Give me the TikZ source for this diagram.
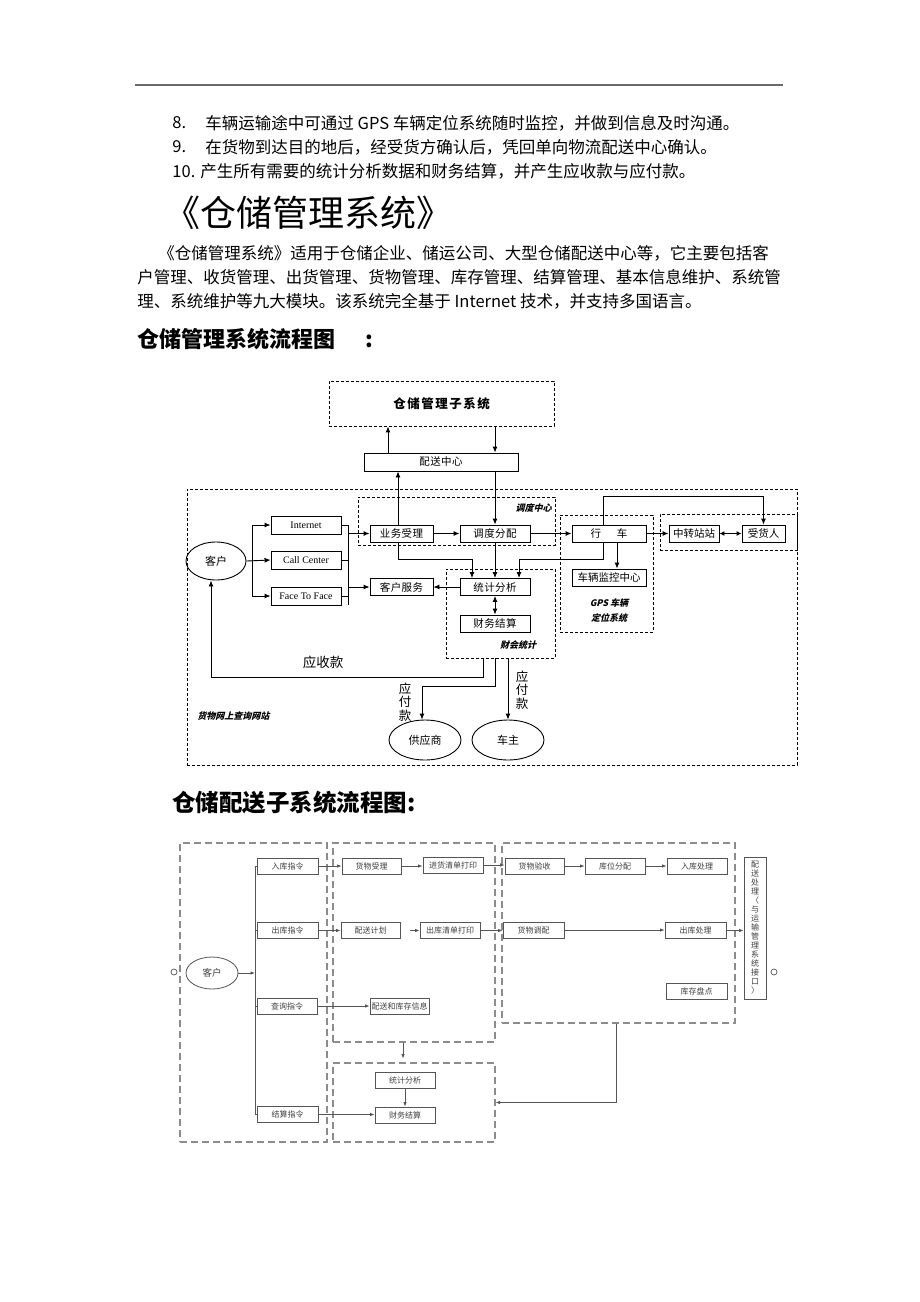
\documentclass[tikz,border=0pt]{standalone}
\usepackage{fontspec}
\setmainfont{Liberation Serif}
\newfontfamily\cjk{Noto Sans CJK SC}
\newfontfamily\cjksl{Noto Sans CJK SC}[FakeSlant=0.25]
\usepackage{xcolor}
\definecolor{ruleGray}{HTML}{6B6B6B}
\definecolor{dashGray}{HTML}{8C8C8C}
\definecolor{boxGray}{HTML}{555555}
\usetikzlibrary{arrows.meta,shapes.geometric}

\tikzset{
  txt/.style={anchor=west, inner sep=0pt, font=\cjk\fontsize{16.5}{18}\selectfont},
  box/.style={draw, inner sep=0pt, minimum height=17pt, font=\cjk\fontsize{10.5}{12}\selectfont\addfontfeature{LetterSpace=4}},
  ebox/.style={draw, inner sep=0pt, minimum width=70pt, minimum height=18pt, font=\fontsize{10}{12}\selectfont},
  dbox/.style={draw, dash pattern=on 3pt off 2pt, line width=0.8pt, inner sep=0pt},
  oval/.style={draw, ellipse, inner sep=0pt, font=\cjk\fontsize{11}{12}\selectfont},
  arr/.style={-{Latex[length=6pt,width=5pt]}},
  lbl/.style={inner sep=0pt, font=\cjksl\bfseries\fontsize{9}{15}\selectfont},
  vlab/.style={align=center, inner sep=0pt, font=\cjk\fontsize{12.5}{13.5}\selectfont},
  gbox/.style={draw=boxGray, line width=0.8pt, inner sep=0pt, minimum height=16pt, text=black!75, font=\cjk\fontsize{8}{9}\selectfont},
  gdash/.style={draw=dashGray, dash pattern=on 7pt off 4pt, line width=1.1pt, inner sep=0pt},
  garr/.style={draw=boxGray, line width=0.8pt, -{Latex[length=4.5pt,width=3.5pt]}},
  gline/.style={draw=boxGray, line width=0.8pt}
}

\begin{document}
\begin{tikzpicture}[x=1pt, y=-1pt, line width=0.9pt]
  \useasboundingbox (0,0) rectangle (920,1302);
  \fill[white] (0,0) rectangle (920,1302);
  \draw[ruleGray, line width=1.6pt] (135,85) -- (783,85);

  % text above the charts
  \node[txt] (n8) at (172,123) {8.};
  \node[txt] (l8) at (205,123) {车辆运输途中可通过 GPS 车辆定位系统随时监控，并做到信息及时沟通。};
  \node[txt] (n9) at (172,147) {9.};
  \node[txt] (l9) at (205,147) {在货物到达目的地后，经受货方确认后，凭回单向物流配送中心确认。};
  \node[txt] (l10) at (172,171) {10. 产生所有需要的统计分析数据和财务结算，并产生应收款与应付款。};
  \node[txt, font=\cjk\fontsize{36}{40}\selectfont] (title) at (164,213) {《仓储管理系统》};
  \node[txt] (p1) at (158,253) {《仓储管理系统》适用于仓储企业、储运公司、大型仓储配送中心等，它主要包括客};
  \node[txt] (p2) at (137,277) {户管理、收货管理、出货管理、货物管理、库存管理、结算管理、基本信息维护、系统管};
  \node[txt] (p3) at (137,301) {理、系统维护等九大模块。该系统完全基于 Internet 技术，并支持多国语言。};
  \node[txt, font=\cjk\bfseries\fontsize{22}{24}\selectfont] (head1) at (137,339) {仓储管理系统流程图\hspace{30pt}:};

  % chart 1
  \node[dbox, minimum width=225pt, minimum height=45pt,
        font=\cjk\bfseries\fontsize{12.5}{14}\selectfont\addfontfeature{LetterSpace=12}] (ccgl) at (441.5,403.5) {仓储管理子系统};
  \node[box, minimum width=154pt, minimum height=18pt] (pszx) at (441,462) {配送中心};
  \node[dbox, minimum width=610pt, minimum height=276pt] (outer) at (492,627) {};
  \node[dbox, minimum width=197pt, minimum height=48pt] (ddzx) at (456.5,521) {};
  \node[dbox, minimum width=109pt, minimum height=89pt] (chtj) at (500.5,613.5) {};
  \node[dbox, minimum width=93pt, minimum height=117pt] (gps) at (606.5,573.5) {};
  \node[dbox, minimum width=137pt, minimum height=36pt] (zzq) at (728.5,532) {};

  \node[oval, minimum width=60pt, minimum height=38pt] (kehu) at (216,561) {客户};
  \node[ebox] (inet) at (306,525) {Internet};
  \node[ebox] (callc) at (306,560) {Call Center};
  \node[ebox] (f2f) at (306,596) {Face To Face};
  \node[box, minimum width=63pt] (ywsl) at (401.5,533.5) {业务受理};
  \node[box, minimum width=70pt] (ddfp) at (495,533.5) {调度分配};
  \node[box, minimum width=63pt] (khfw) at (401.5,587) {客户服务};
  \node[box, minimum width=70pt] (tjfx) at (495,587) {统计分析};
  \node[box, minimum width=70pt] (cwjs) at (495,623.5) {财务结算};
  \node[box, minimum width=74pt] (xingche) at (609,533.5) {行\hspace{16pt}车};
  \node[box, minimum width=74pt, font=\cjk\fontsize{10.5}{12}\selectfont] (clzx) at (609,577.5) {车辆监控中心};
  \node[box, minimum width=50pt, font=\cjk\fontsize{10.5}{12}\selectfont] (zzz) at (694,533.5) {中转站站};
  \node[box, minimum width=43pt, font=\cjk\fontsize{10.5}{12}\selectfont] (shr) at (763.5,533.5) {受货人};
  \node[oval, minimum width=72pt, minimum height=40pt] (gys) at (425,740) {供应商};
  \node[oval, minimum width=72pt, minimum height=40pt] (cz) at (508,740) {车主};

  \node[lbl, anchor=east] (ddzxl) at (552,508) {调度中心};
  \node[lbl] (chtjl) at (518,645) {财会统计};
  \node[lbl, align=center] (gpsl) at (609,611) {GPS 车辆\\定位系统};
  \node[lbl, anchor=west] (hwcx) at (197,716) {货物网上查询网站};
  \node[inner sep=0pt, font=\cjk\fontsize{13.5}{15}\selectfont] (ysk) at (323,662) {应收款};
  \node[vlab] (yfk1) at (405,702) {应\\付\\款};
  \node[vlab] (yfk2) at (522,690) {应\\付\\款};

  \coordinate (lb) at (252,561);
  \coordinate (rb) at (348,561);

  \draw[arr] ([xshift=-53pt]pszx.north) -- ([xshift=-53pt]pszx.north |- ccgl.south);
  \draw[arr] (ccgl.south -| ddfp.north) -- (pszx.north -| ddfp.north);
  \draw[arr] ([xshift=-3.5pt]ywsl.north) -- ([xshift=-3.5pt]ywsl.north |- pszx.south);
  \draw[arr] (pszx.south -| ddfp.north) -- (ddfp.north);
  \draw[arr] (kehu.east) -- (callc.west);
  \draw (lb |- inet.west) -- (lb |- f2f.west);
  \draw[arr] (lb |- inet.west) -- (inet.west);
  \draw[arr] (lb |- f2f.west) -- (f2f.west);
  \draw (inet.east) -- (rb |- inet.east);
  \draw (callc.east) -- (rb |- callc.east);
  \draw (f2f.east) -- (rb |- f2f.east);
  \draw (rb |- inet.east) -- (rb |- f2f.south);
  \draw[arr] (rb |- ywsl.west) -- (ywsl.west);
  \draw[arr] (rb |- khfw.west) -- (khfw.west);
  \draw[arr] (ywsl.east) -- (ddfp.west);
  \draw[arr] (ddfp.east) -- (xingche.west);
  \draw[arr] (tjfx.west) -- (khfw.east);
  \draw[{Latex[length=6pt,width=5pt]}-{Latex[length=6pt,width=5pt]}] (tjfx.south) -- (cwjs.north);
  \draw[arr] ([xshift=-3.5pt]ywsl.south) |- ([xshift=-23pt,yshift=19pt]tjfx.north) -- ([xshift=-23pt]tjfx.north);
  \draw[arr] (ddfp.south) -- (tjfx.north);
  \draw[arr] ([xshift=-6pt]xingche.south) |- ([xshift=24pt,yshift=19pt]tjfx.north) -- ([xshift=24pt]tjfx.north);
  \draw[arr] ([xshift=8pt]xingche.south) -- ([xshift=8pt]clzx.north);
  \draw[arr] ([xshift=-6pt]xingche.north) |- ([yshift=28pt]shr.north) -- (shr.north);
  \draw[arr] (xingche.east) -- (zzz.west);
  \draw[{Latex[length=5pt,width=5pt]}-{Latex[length=5pt,width=5pt]}] (zzz.east) -- (shr.west);
  \draw[arr] ([xshift=-17.5pt]chtj.south) -- ++(0,19) -| ([xshift=-5pt]kehu.south);
  \draw[arr] ([xshift=-5.5pt]chtj.south) -- ++(0,28) -| ([xshift=-3pt]gys.north);
  \draw[arr] ([xshift=7.5pt]chtj.south) -- (cz.north);

  % chart 2
  \node[txt, font=\cjk\bfseries\fontsize{23.5}{26}\selectfont] (head2) at (172,803) {仓储配送子系统流程图:};

  \node[gdash, minimum width=147pt, minimum height=299pt] (lbox) at (253.5,992.5) {};
  \node[gdash, minimum width=162pt, minimum height=199pt] (mbox) at (414,942.5) {};
  \node[gdash, minimum width=162pt, minimum height=79pt] (sbox) at (414,1102.5) {};
  \node[gdash, minimum width=233pt, minimum height=180pt] (rbox) at (618.5,933) {};

  \node[circle, draw=boxGray, line width=0.7pt, minimum size=6pt, inner sep=0pt] (cl) at (174,972) {};
  \node[circle, draw=boxGray, line width=0.7pt, minimum size=6pt, inner sep=0pt] (cr) at (774,972) {};
  \node[gbox, ellipse, minimum width=52pt, minimum height=32pt, font=\cjk\fontsize{9.5}{10}\selectfont] (kehu2) at (212,973) {客户};

  \node[gbox, minimum width=61pt] (rkzl) at (287.5,866) {入库指令};
  \node[gbox, minimum width=61pt] (ckzl) at (287.5,930.5) {出库指令};
  \node[gbox, minimum width=60pt] (cxzl) at (287,1006) {查询指令};
  \node[gbox, minimum width=61pt] (jszl) at (287.5,1114.5) {结算指令};
  \node[gbox, minimum width=59pt] (hwsl) at (371.5,866) {货物受理};
  \node[gbox, minimum width=60pt] (jhqd) at (453,865) {进货清单打印};
  \node[gbox, minimum width=59pt] (psjh) at (370.5,930.5) {配送计划};
  \node[gbox, minimum width=60pt] (ckqd) at (450,930.5) {出库清单打印};
  \node[gbox, minimum width=59pt] (pskc) at (399.5,1006) {配送和库存信息};
  \node[gbox, minimum width=60pt] (tjfx2) at (405,1080.5) {统计分析};
  \node[gbox, minimum width=60pt] (cwjs2) at (405,1115) {财务结算};
  \node[gbox, minimum width=59pt] (hwys) at (534.5,866) {货物验收};
  \node[gbox, minimum width=60pt] (kwfp) at (615,866) {库位分配};
  \node[gbox, minimum width=60pt] (rkcl) at (697,866) {入库处理};
  \node[gbox, minimum width=61pt] (hwtp) at (533.5,930) {货物调配};
  \node[gbox, minimum width=61pt] (ckcl) at (695.5,930.5) {出库处理};
  \node[gbox, minimum width=61pt] (kcpd) at (696.5,991) {库存盘点};
  \node[gbox, minimum width=22pt, minimum height=142pt, align=center] (vbox) at (755,928)
    {配\\送\\处\\理\\〈\\与\\运\\输\\管\\理\\系\\统\\接\\口\\〉};

  \coordinate (tr) at (255,973);
  \draw[garr] (kehu2.east) -- (tr);
  \draw[gline] (tr |- rkzl.west) -- (tr |- jszl.west);
  \draw[gline] (tr |- rkzl.west) -- (rkzl.west);
  \draw[gline] (tr |- ckzl.west) -- (ckzl.west);
  \draw[gline] (tr |- cxzl.west) -- (cxzl.west);
  \draw[gline] (tr |- jszl.west) -- (jszl.west);
  \draw[garr] (rkzl.east) -- (hwsl.west);
  \draw[garr] (hwsl.east) -- (jhqd.west |- hwsl.east);
  \draw[garr] (jhqd.east) -- (hwys.west |- jhqd.east);
  \draw[garr] (hwys.east) -- (kwfp.west);
  \draw[garr] (kwfp.east) -- (rkcl.west);
  \draw[garr] (ckzl.east) -- (psjh.west);
  \draw[garr] ([xshift=10pt]psjh.east) -- (ckqd.west);
  \draw[garr] (ckqd.east) -- (hwtp.west |- ckqd.east);
  \draw[garr] (hwtp.east) -- (ckcl.west |- hwtp.east);
  \draw[garr] (ckcl.east) -- (vbox.west |- ckcl.east);
  \draw[garr] (cxzl.east) -- (pskc.west);
  \draw[garr] (jszl.east) -- (cwjs2.west |- jszl.east);
  \draw[garr] (tjfx2.south) -- (cwjs2.north);
  \draw[garr] ([xshift=-11pt]mbox.south) -- ++(0,16);
  \draw[garr] ([xshift=-2.5pt]rbox.south) |- (sbox.east);
\end{tikzpicture}
\end{document}
